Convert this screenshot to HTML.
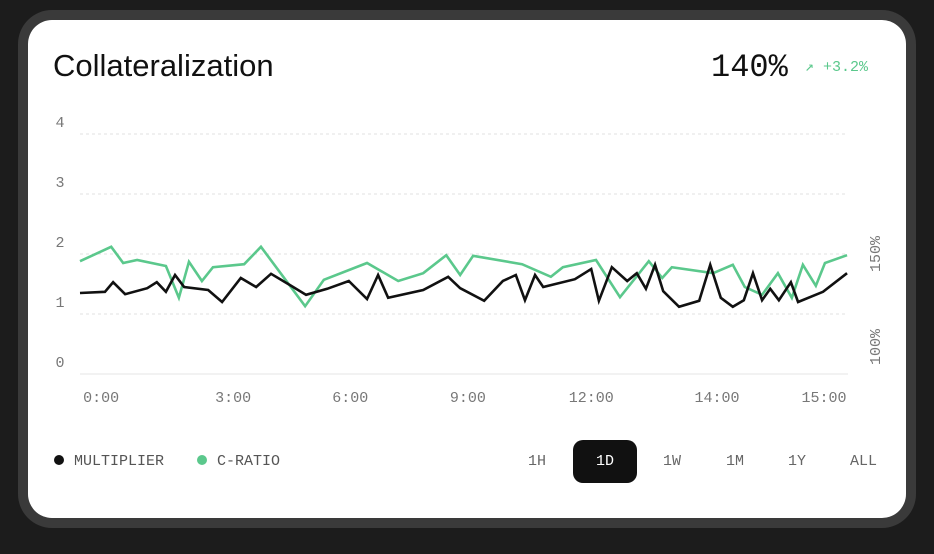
<!DOCTYPE html>
<html><head><meta charset="utf-8"><style>
html,body{margin:0;padding:0;}
body{width:934px;height:554px;background:#1c1c1c;position:relative;overflow:hidden;font-family:"Liberation Sans",sans-serif;}
.ring{position:absolute;left:18px;top:10px;width:898px;height:518px;border-radius:34px;background:#3a3a3a;}
.card{position:absolute;left:28px;top:20px;width:878px;height:498px;border-radius:24px;background:#fff;}
.mono{font-family:"Liberation Mono",monospace;}
.t{position:absolute;white-space:nowrap;}
</style></head><body>
<div class="ring"></div>
<div class="card"></div>
<div class="t" style="left:53px;top:48px;font-size:31px;color:#111;">Collateralization</div>
<div class="t mono" style="left:711px;top:49px;font-size:32px;color:#111;">140%</div>
<div class="t mono" style="left:805px;top:57px;font-size:15px;color:#5bc88c;">↗ +3.2%</div>
<svg id="chart" width="934" height="554" style="position:absolute;left:0;top:0"></svg>
<div class="t mono" style="left:54px;top:453px;font-size:15px;color:#555;"><span style="display:inline-block;width:10px;height:10px;border-radius:5px;background:#111;margin-right:10px;"></span>MULTIPLIER</div>
<div class="t mono" style="left:197px;top:453px;font-size:15px;color:#555;"><span style="display:inline-block;width:10px;height:10px;border-radius:5px;background:#5bc88c;margin-right:10px;"></span>C-RATIO</div>
<div class="t mono" style="left:528px;top:453px;font-size:15px;color:#666;">1H</div>
<div class="t mono" style="left:573px;top:440px;width:64px;height:43px;line-height:43px;text-align:center;border-radius:10px;background:#111;font-size:15px;color:#fff;">1D</div>
<div class="t mono" style="left:663px;top:453px;font-size:15px;color:#666;">1W</div>
<div class="t mono" style="left:726px;top:453px;font-size:15px;color:#666;">1M</div>
<div class="t mono" style="left:788px;top:453px;font-size:15px;color:#666;">1Y</div>
<div class="t mono" style="left:850px;top:453px;font-size:15px;color:#666;">ALL</div>
<script>
const yTicks=[0,1,2,3,4];
const xTickLabels=["0:00","3:00","6:00","9:00","12:00","14:00","15:00"];
const xTickHours=[0.44,3.19,5.63,8.08,10.65,13.27,15.5];
const rightTickLabels=["100%","150%"];
const rightTickValues=[0.45,2.0];
const multT=[0,.52,.69,.94,1.40,1.60,1.79,1.98,2.17,2.67,2.96,3.35,3.67,3.98,4.38,4.71,5.15,5.60,5.98,6.21,6.42,7.15,7.67,7.92,8.42,8.81,9.08,9.27,9.48,9.65,10.31,10.65,10.81,11.08,11.40,11.60,11.79,11.98,12.15,12.48,12.90,13.13,13.35,13.60,13.83,14.02,14.21,14.38,14.56,14.81,14.96,15.48,15.98];
const multV=[1.35,1.37,1.53,1.33,1.43,1.53,1.37,1.65,1.45,1.40,1.20,1.60,1.45,1.67,1.48,1.32,1.42,1.55,1.25,1.65,1.27,1.40,1.62,1.43,1.22,1.55,1.65,1.23,1.65,1.45,1.58,1.75,1.22,1.78,1.55,1.68,1.42,1.82,1.38,1.12,1.22,1.82,1.27,1.12,1.23,1.68,1.23,1.42,1.23,1.53,1.20,1.37,1.68];
const crT=[0,.65,.90,1.19,1.79,2.06,2.27,2.54,2.77,3.42,3.77,4.69,5.08,5.98,6.63,7.15,7.63,7.92,8.19,9.21,9.81,10.06,10.75,11.25,11.85,12.13,12.33,13.19,13.60,13.85,14.21,14.54,14.83,15.06,15.33,15.52,15.98];
const crV=[1.88,2.12,1.85,1.90,1.80,1.27,1.87,1.55,1.78,1.83,2.12,1.13,1.57,1.85,1.55,1.68,1.98,1.65,1.97,1.83,1.62,1.78,1.90,1.28,1.88,1.60,1.78,1.68,1.82,1.45,1.32,1.68,1.27,1.82,1.47,1.85,1.98];
const NS="http://www.w3.org/2000/svg";
const svg=document.getElementById('chart');
const X=t=>80+t*48;
const Y=v=>374-v*60;
function mk(tag,attrs){const e=document.createElementNS(NS,tag);for(const k in attrs)e.setAttribute(k,attrs[k]);svg.appendChild(e);return e;}
yTicks.forEach(v=>{
  const l=mk('line',{x1:80,x2:848,y1:Y(v),y2:Y(v),stroke:v===0?'#e6e6e6':'#e0e0e0','stroke-width':1,'stroke-dasharray':v===0?'':'3 3'});
  
  
  const t=mk('text',{x:60,y:Y(v)-7,'text-anchor':'middle','font-family':'Liberation Mono, monospace','font-size':15,fill:'#777'});
  t.textContent=v;
  
  
});
xTickLabels.forEach((s,i)=>{
  const t=mk('text',{x:X(xTickHours[i]),y:402,'text-anchor':'middle','font-family':'Liberation Mono, monospace','font-size':15,fill:'#777'});
  t.textContent=s;
  
  
});
rightTickLabels.forEach((s,i)=>{
  const y=Y(rightTickValues[i]);
  const t=mk('text',{x:0,y:0,'text-anchor':'middle','font-family':'Liberation Mono, monospace','font-size':15,fill:'#777',transform:`translate(880,${y}) rotate(-90)`});
  t.textContent=s;
  
  
});
function line(ts,vs,color,name){
  const p=mk('polyline',{points:ts.map((t,i)=>X(t)+','+Y(vs[i])).join(' '),fill:'none',stroke:color,'stroke-width':2.6,'stroke-linejoin':'miter'});
  
  
}
line(crT,crV,'#5bc88c','c-ratio-line');
line(multT,multV,'#111','multiplier-line');
</script>
</body></html>
